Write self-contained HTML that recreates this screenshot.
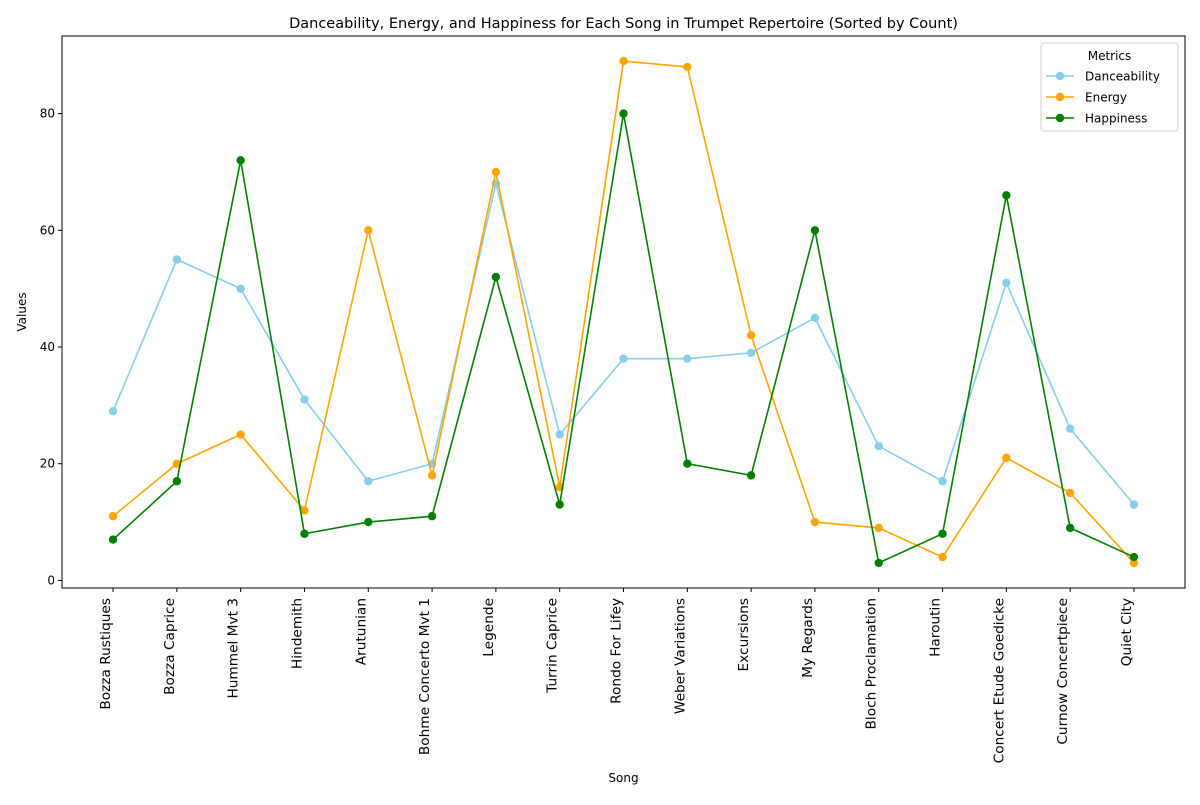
<!DOCTYPE html>
<html><head><meta charset="utf-8"><style>
body{margin:0;background:#fff;font-family:"Liberation Sans","DejaVu Sans",sans-serif;}
svg text{font-family:"DejaVu Sans","Liberation Sans",sans-serif;}
</style></head><body>
<svg id="chart" width="1200" height="800" xmlns="http://www.w3.org/2000/svg"></svg>
<script>
const songs=["Bozza Rustiques","Bozza Caprice","Hummel Mvt 3","Hindemith","Arutunian","Bohme Concerto Mvt 1","Legende","Turrin Caprice","Rondo For Lifey","Weber Variations","Excursions","My Regards","Bloch Proclamation","Haroutin","Concert Etude Goedicke","Curnow Concertpiece","Quiet City"];
const danceability=[29,55,50,31,17,20,68,25,38,38,39,45,23,17,51,26,13];
const energy=[11,20,25,12,60,18,70,16,89,88,42,10,9,4,21,15,3];
const happiness=[7,17,72,8,10,11,52,13,80,20,18,60,3,8,66,9,4];
const yTicks=[0,20,40,60,80];
const seriesNames=["Danceability","Energy","Happiness"];
const seriesColors=["#87ceeb","#ffa500","#008000"];

const svg=document.getElementById('chart');
const NS="http://www.w3.org/2000/svg";
const L=62,R=1185,T=36,B=588;
const all=danceability.concat(energy,happiness);
const mn=Math.min(...all),mx=Math.max(...all),pad=(mx-mn)*0.05;
const y0=mn-pad,y1=mx+pad;
const n=songs.length,xpad=(n-1)*0.05;
function xs(i){return L+(i+xpad)/(n-1+2*xpad)*(R-L);}
function ys(v){return B-(v-y0)/(y1-y0)*(B-T);}
function el(tag,attrs,parent){const e=document.createElementNS(NS,tag);for(const k in attrs)e.setAttribute(k,attrs[k]);(parent||svg).appendChild(e);return e;}

const frame=el('rect',{x:L,y:T,width:R-L,height:B-T,fill:'none',stroke:'#000','stroke-width':1});



yTicks.forEach(v=>{
  const y=ys(v);
  const t=el('line',{x1:L-4,x2:L,y1:y,y2:y,stroke:'#000'});
  
  
  const tx=el('text',{x:L-7,y:y+4,'font-size':12,'text-anchor':'end'});
  tx.textContent=v;
  
  
});
songs.forEach((s,i)=>{
  const x=xs(i);
  const t=el('line',{x1:x,x2:x,y1:B,y2:B+4,stroke:'#000'});
  
  
  const tx=el('text',{x:0,y:0,'font-size':13.7,'text-anchor':'end',transform:`translate(${x-3},${B+10}) rotate(-90)`});
  tx.textContent=s;
  
  
});

[danceability,energy,happiness].forEach((data,si)=>{
  const g=el('g',{});
  
  
  const pts=data.map((v,i)=>xs(i)+','+ys(v)).join(' ');
  const pl=el('polyline',{points:pts,fill:'none',stroke:seriesColors[si],'stroke-width':1.6},g);
  
  
  data.forEach((v,i)=>{
    const c=el('circle',{cx:xs(i),cy:ys(v),r:4.2,fill:seriesColors[si]},g);
    
    
  });
});

const title=el('text',{x:(L+R)/2,y:28,'font-size':14.5,'text-anchor':'middle'});
title.textContent="Danceability, Energy, and Happiness for Each Song in Trumpet Repertoire (Sorted by Count)";


const xt=el('text',{x:(L+R)/2,y:782,'font-size':12,'text-anchor':'middle'});
xt.textContent="Song";


const yt=el('text',{x:0,y:0,'font-size':12,'text-anchor':'middle',transform:`translate(26,${(T+B)/2}) rotate(-90)`});
yt.textContent="Values";



const lg=el('g',{});


el('rect',{x:1041,y:43,width:137,height:88,rx:3,fill:'#fff',stroke:'#ccc'},lg);
const lt=el('text',{x:1109.5,y:60,'font-size':12,'text-anchor':'middle'},lg);
lt.textContent="Metrics";


seriesNames.forEach((nm,i)=>{
  const y=76+i*21;
  const e=el('g',{},lg);
  
  
  el('line',{x1:1046,x2:1074,y1:y,y2:y,stroke:seriesColors[i],'stroke-width':1.6},e);
  el('circle',{cx:1060,cy:y,r:4.2,fill:seriesColors[i]},e);
  const t=el('text',{x:1085,y:y+4.5,'font-size':12},e);
  t.textContent=nm;
});
</script>
</body></html>
